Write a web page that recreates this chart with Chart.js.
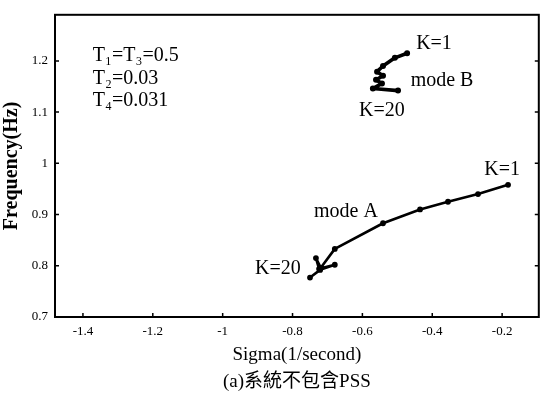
<!DOCTYPE html>
<html lang="zh-Hant">
<head>
    <meta charset="UTF-8">
    <title>Root Locus</title>
    <script src="https://cdn.jsdelivr.net/npm/chart.js"></script>
    <style>
        html, body { margin: 0; padding: 0; background: #fff; }
        #wrap { width: 544px; height: 397px; }
    </style>
</head>
<body>
<div id="wrap"><canvas id="locusChart" width="544" height="397"></canvas></div>
<script>
    // mode A locus, K = 1 (right) down to K = 20 (hooked end)
    const modeASigma = [-0.183, -0.269, -0.355, -0.435, -0.541, -0.679, -0.719, -0.733, -0.724, -0.679, -0.721, -0.750];
    const modeAFreq  = [0.958, 0.940, 0.925, 0.910, 0.883, 0.833, 0.796, 0.815, 0.794, 0.802, 0.792, 0.777];

    // mode B locus, K = 1 (top right) curling down to K = 20
    const modeBSigma = [-0.472, -0.507, -0.541, -0.558, -0.541, -0.561, -0.544, -0.570, -0.498];
    const modeBFreq  = [1.215, 1.206, 1.190, 1.179, 1.171, 1.163, 1.156, 1.146, 1.142];

    const xTicks = [-1.4, -1.2, -1, -0.8, -0.6, -0.4, -0.2];
    const yTicks = [0.7, 0.8, 0.9, 1, 1.1, 1.2];
    const paramLines = ['T\u2081=T\u2083=0.5', 'T\u2082=0.03', 'T\u2084=0.031'];
    const caption = '(a)系統不包含PSS';

    const serif = '"Liberation Serif", "Times New Roman", "Noto Sans CJK TC", serif';

    function toPoints(xs, ys) {
        return xs.map((x, i) => ({ x: x, y: ys[i] }));
    }

    // text placed in data units
    const notes = [
        { text: 'K=1',    x: -0.395, y: 1.233, align: 'center' },
        { text: 'mode B', x: -0.372, y: 1.162, align: 'center' },
        { text: 'K=20',   x: -0.544, y: 1.102, align: 'center' },
        { text: 'K=1',    x: -0.200, y: 0.987, align: 'center' },
        { text: 'mode A', x: -0.647, y: 0.906, align: 'center' },
        { text: 'K=20',   x: -0.842, y: 0.794, align: 'center' }
    ];

    const framePlugin = {
        id: 'frame',
        afterDraw(chart) {
            const ctx = chart.ctx;
            const a = chart.chartArea;
            const xs = chart.scales.x, ys = chart.scales.y;
            ctx.save();
            ctx.strokeStyle = '#000';
            ctx.lineWidth = 2;
            ctx.strokeRect(a.left, a.top, a.right - a.left, a.bottom - a.top);

            // inward tick marks
            ctx.lineWidth = 1.5;
            ctx.beginPath();
            yTicks.forEach(v => {
                const py = ys.getPixelForValue(v);
                ctx.moveTo(a.left, py); ctx.lineTo(a.left + 4, py);
                ctx.moveTo(a.right, py); ctx.lineTo(a.right - 4, py);
            });
            xTicks.forEach(v => {
                const px = xs.getPixelForValue(v);
                ctx.moveTo(px, a.bottom); ctx.lineTo(px, a.bottom - 4);
            });
            ctx.stroke();

            ctx.fillStyle = '#000';
            ctx.textBaseline = 'middle';
            ctx.font = '20px ' + serif;
            notes.forEach(n => {
                ctx.textAlign = n.align;
                ctx.fillText(n.text, xs.getPixelForValue(n.x), ys.getPixelForValue(n.y));
            });

            ctx.textAlign = 'left';
            const px0 = xs.getPixelForValue(-1.372);
            paramLines.forEach((t, i) => {
                ctx.fillText(t, px0, ys.getPixelForValue(1.21) + i * 22.5);
            });

            ctx.textAlign = 'center';
            ctx.font = '19px ' + serif;
            ctx.fillText(caption, (a.left + a.right) / 2, 382);
            ctx.restore();
        }
    };

    const lineStyle = {
        showLine: true,
        borderColor: '#000',
        backgroundColor: '#000',
        borderWidth: 2.6,
        pointRadius: 1.6,
        pointHoverRadius: 1.6,
        borderCapStyle: 'round',
        borderJoinStyle: 'round',
        tension: 0
    };

    new Chart(document.getElementById('locusChart'), {
        type: 'scatter',
        data: {
            datasets: [
                Object.assign({ label: 'mode A', data: toPoints(modeASigma, modeAFreq) }, lineStyle),
                Object.assign({ label: 'mode B', data: toPoints(modeBSigma, modeBFreq) }, lineStyle, { borderWidth: 3.6, pointRadius: 1.2 })
            ]
        },
        options: {
            responsive: false,
            animation: false,
            devicePixelRatio: 1,
            layout: { padding: { top: 8, right: 5, left: 0, bottom: 22 } },
            plugins: { legend: { display: false }, tooltip: { enabled: false } },
            scales: {
                x: {
                    type: 'linear',
                    min: -1.48,
                    max: -0.095,
                    afterBuildTicks: s => { s.ticks = xTicks.map(v => ({ value: v })); },
                    afterFit: s => { s.height = 58; },
                    grid: { display: false, drawTicks: false },
                    border: { display: false },
                    ticks: {
                        color: '#000',
                        padding: 7,
                        maxRotation: 0,
                        font: { family: serif, size: 13 },
                        callback: v => String(v)
                    },
                    title: {
                        display: true,
                        text: 'Sigma(1/second)',
                        color: '#000',
                        font: { family: serif, size: 19 },
                        padding: { top: 0, bottom: 9 }
                    }
                },
                y: {
                    type: 'linear',
                    min: 0.7,
                    max: 1.29,
                    afterBuildTicks: s => { s.ticks = yTicks.map(v => ({ value: v })); },
                    afterFit: s => { s.width = 55; },
                    grid: { display: false, drawTicks: false },
                    border: { display: false },
                    ticks: {
                        color: '#000',
                        padding: 7,
                        font: { family: serif, size: 13 },
                        callback: v => String(v)
                    },
                    title: {
                        display: true,
                        text: 'Frequency(Hz)',
                        color: '#000',
                        font: { family: serif, size: 20, weight: 'bold' },
                        padding: { top: 0, bottom: 0 }
                    }
                }
            }
        },
        plugins: [framePlugin]
    });
</script>
</body>
</html>
